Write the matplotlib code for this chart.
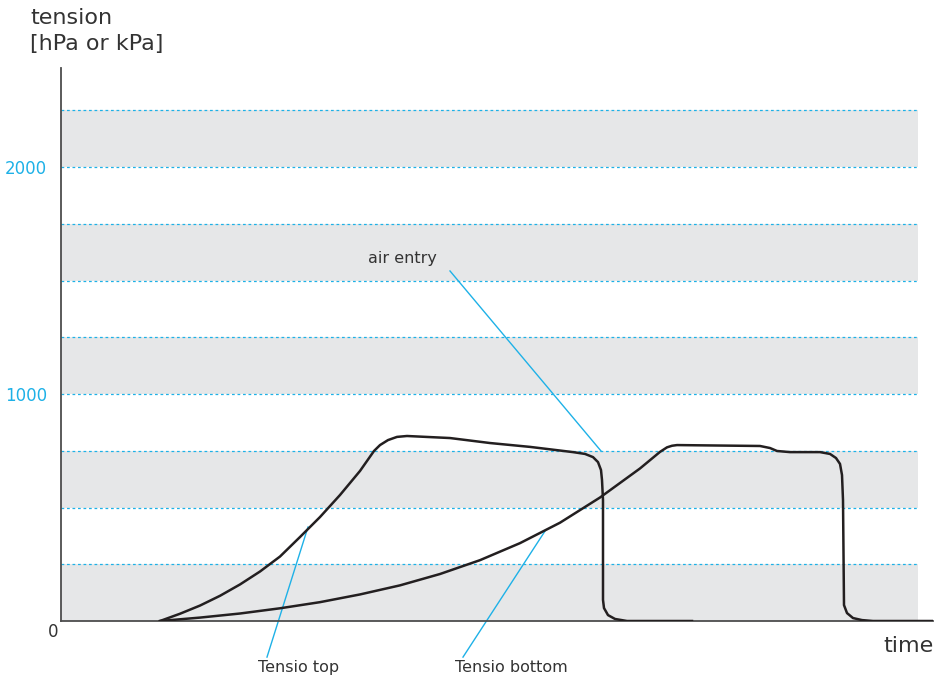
import numpy as np
import matplotlib
matplotlib.use("Agg")
import matplotlib.pyplot as plt

# time in arbitrary units, tension in hPa / kPa
TOP_T = [99, 119, 139, 159, 179, 199, 219, 239, 259, 279, 299, 313, 319, 327, 336, 346,
         389, 429, 469, 512, 524, 532, 537, 540, 541, 542, 542, 543, 547, 554, 566, 599, 631]
TOP_V = [0, 32, 68, 111, 161, 218, 284, 370, 458, 555, 661, 749, 775, 797, 811, 815,
         806, 784, 767, 744, 736, 722, 700, 665, 621, 533, 93, 57, 26, 9, 0, 0, 0]

BOT_T = [99, 139, 179, 219, 259, 299, 339, 379, 419, 459, 499, 539, 579, 599, 606, 611, 616,
         699, 709, 716, 729, 759, 769, 775, 779, 781, 782, 783, 786, 792, 801, 812, 872]
BOT_V = [0, 15, 33, 56, 83, 117, 157, 207, 268, 343, 433, 544, 672, 745, 765, 772, 775,
         771, 762, 749, 744, 744, 736, 718, 692, 643, 533, 70, 35, 13, 4, 0, 0]

GRID_LEVELS = [250, 500, 750, 1000, 1250, 1500, 1750, 2000, 2250]
BANDS = [(0, 250), (500, 750), (1000, 1250), (1500, 1750), (2000, 2250)]
YTICKS = [1000, 2000]
YTICK_LABELS = ["1000", "2000"]

# callouts: (label, point on curve, end of leader, text position)
CALLOUTS = [
    ("Tensio top", (247, 414), (206, -159), (238, -207)),
    ("Tensio bottom", (484, 396), (402, -159), (450, -207)),
    ("air entry", (540, 749), (389, 1542), (341, 1599)),
]

BLUE = "#1eb1e7"
INK = "#231f20"
BAND = "#e6e7e8"

plt.rcParams["font.family"] = "DejaVu Sans"

W, H = 942, 682
fig = plt.figure(figsize=(W / 100, H / 100), dpi=100)
fig.patch.set_facecolor("white")
ax = fig.add_axes([61 / W, (H - 621) / H, (933 - 61) / W, (621 - 68) / H])
ax.set_facecolor("white")

x_end = 857
ax.set_xlim(0, 872)
ax.set_ylim(0, (621 - 68) / 0.227)

for lo, hi in BANDS:
    ax.fill_between([0, x_end], lo, hi, color=BAND, lw=0, zorder=0)
for g in GRID_LEVELS:
    ax.hlines(g, 0, x_end, colors=BLUE, linestyles=(0, (2.2, 2.2)), lw=0.9, zorder=1)

ax.plot(TOP_T, TOP_V, color=INK, lw=1.8, solid_joinstyle="round", zorder=3)
ax.plot(BOT_T, BOT_V, color=INK, lw=1.8, solid_joinstyle="round", zorder=3)

for label, p0, p1, tp in CALLOUTS:
    ax.plot([p0[0], p1[0]], [p0[1], p1[1]], color=BLUE, lw=1.0, clip_on=False, zorder=2)
    ax.text(tp[0], tp[1], label, ha="center", va="center", fontsize=11.5,
            color="#333333", clip_on=False)

ax.set_xticks([])
ax.set_yticks(YTICKS)
ax.set_yticklabels(YTICK_LABELS, fontsize=12, color=BLUE)
ax.tick_params(axis="y", length=0, pad=10)
ax.annotate("0", xy=(0, 0), xytext=(-8, -11), textcoords="offset pixels",
            ha="center", va="center", fontsize=12, color="#333333", annotation_clip=False)

for s in ["top", "right"]:
    ax.spines[s].set_visible(False)
ax.spines["left"].set_color("#4d4d4d")
ax.spines["bottom"].set_color("#4d4d4d")
ax.spines["left"].set_linewidth(1.3)
ax.spines["bottom"].set_linewidth(1.3)

fig.text(30 / W, 1 - 18 / H, "tension", ha="left", va="center", fontsize=16, color="#333333")
fig.text(30 / W, 1 - 44 / H, "[hPa or kPa]", ha="left", va="center", fontsize=16, color="#333333")
fig.text(908 / W, 1 - 646 / H, "time", ha="center", va="center", fontsize=16, color="#333333")

fig.savefig("out.png", dpi=100)
